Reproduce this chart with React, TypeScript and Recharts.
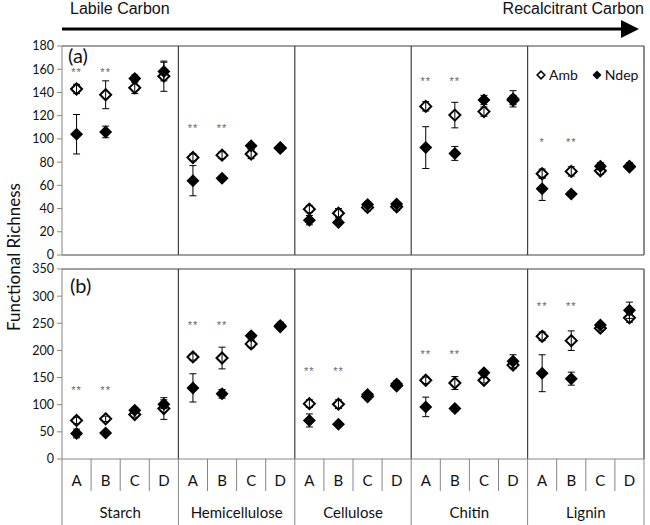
import React from 'react';
import { ComposedChart, Scatter, XAxis, YAxis, ErrorBar, ReferenceLine, Legend } from 'recharts';

const groups = ['Starch', 'Hemicellulose', 'Cellulose', 'Chitin', 'Lignin'];
const levels = ['A', 'B', 'C', 'D'];

// panel (a)
const ambA = [143, 138, 144, 154, 84, 86, 87, 92, 39.5, 36, 41, 41.5, 128, 120.5, 123.5, 133.5, 70, 72, 72.5, 76];
const ambErrA = [4, 12, 5, 13, 3, 3, 4, 2, 3, 4, 3, 3, 4, 11, 4, 4, 4, 4, 3, 2];
const ndepA = [104, 106, 152, 158, 64, 66, 94, 92.5, 30, 28, 43.5, 44, 92.5, 87.5, 133.5, 134.5, 57, 52.5, 76.5, 76.5];
const ndepErrA = [17, 5, 3, 8, 13, 2, 2, 2, 4, 2, 2, 2, 18, 6, 4, 7, 10, 2, 3, 3];
const starYA = [154, 106, 0, 146, 94];
const starsA = ['**', '**', '', '', '**', '**', '', '', '', '', '', '', '**', '**', '', '', '*', '**', '', ''];

// panel (b)
const ambB = [71, 74, 82, 93, 188, 186, 212, 244, 102, 101, 115, 135, 145, 140, 145, 173, 226, 218, 241, 260];
const ambErrB = [6, 5, 5, 20, 6, 20, 7, 5, 7, 8, 4, 4, 6, 12, 5, 6, 8, 18, 5, 8];
const ndepB = [47, 48, 90, 101, 131, 120, 227, 246, 71, 64, 119, 138, 96, 93, 159, 180, 158, 148, 247, 274];
const ndepErrB = [8, 3, 5, 8, 26, 8, 4, 6, 12, 3, 4, 6, 18, 5, 4, 12, 34, 12, 4, 15];
const starYB = [119, 239, 154, 186, 274];
const starsB = ['**', '**', '', '', '**', '**', '', '', '**', '**', '', '', '**', '**', '', '', '**', '**', '', ''];

const ticksA = [0, 20, 40, 60, 80, 100, 120, 140, 160, 180];
const ticksB = [0, 50, 100, 150, 200, 250, 300, 350];
const xTicks = Array.from({ length: 20 }, (_, i) => i);
const dividers = [3.5, 7.5, 11.5, 15.5, 19.5];

const font = 'Lato, Carlito, "Open Sans", sans-serif';
const plotLeft = 62;
const plotRight = 644;
const cellW = (plotRight - plotLeft) / 20;

function buildRows(amb: number[], ambErr: number[], ndep: number[], ndepErr: number[], starY: number[], stars: string[]) {
  return amb.map((v, i) => ({
    x: i,
    amb: v,
    ambErr: ambErr[i],
    ndep: ndep[i],
    ndepErr: ndepErr[i],
    starY: starY[Math.floor(i / 4)],
    star: stars[i],
  }));
}

const rowsA = buildRows(ambA, ambErrA, ndepA, ndepErrA, starYA, starsA);
const rowsB = buildRows(ambB, ambErrB, ndepB, ndepErrB, starYB, starsB);

const diamond = (cx: number, cy: number, r: number) => `M${cx},${cy - r}L${cx + r},${cy}L${cx},${cy + r}L${cx - r},${cy}Z`;

const OpenDiamond = (props: any) => (
  <path d={diamond(props.cx, props.cy, 5.5)} fill="none" stroke="#000" strokeWidth={2} />
);

const FilledDiamond = (props: any) => (
  <path d={diamond(props.cx, props.cy, 6.5)} fill="#000" stroke="none" />
);

const StarMark = (props: any) => {
  const { cx, cy, payload } = props;
  if (!payload.star) return <g />;
  return (
    <text x={cx} y={cy} textAnchor="middle" fontSize={11} fill="#666" fontFamily="Liberation Sans, Arial" letterSpacing={1}>
      {payload.star}
    </text>
  );
};

const renderLegend = (props: any) => (
  <div style={{ display: 'flex', gap: 14, fontFamily: font, fontSize: 14, color: '#111' }}>
    {props.payload
      .filter((p: any) => p.value === 'Amb' || p.value === 'Ndep')
      .map((p: any) => (
        <span key={p.value} style={{ display: 'flex', alignItems: 'center', gap: 3 }}>
          <svg width={10} height={10}>
            {p.value === 'Amb' ? (
              <path d={diamond(5, 5, 3.8)} fill="none" stroke="#000" strokeWidth={1.6} />
            ) : (
              <path d={diamond(5, 5, 4.5)} fill="#000" />
            )}
          </svg>
          {p.value}
        </span>
      ))}
  </div>
);

const CategoryTick = (props: any) => {
  const { x, y, payload } = props;
  const i = payload.value as number;
  const left = x - cellW / 2;
  const full = i % 4 === 0;
  return (
    <g>
      <line x1={left} y1={y} x2={left} y2={y + (full ? 66 : 32)} stroke="#868686" />
      {i === 19 && <line x1={x + cellW / 2} y1={y} x2={x + cellW / 2} y2={y + 66} stroke="#868686" />}
      <text x={x} y={y + 27} textAnchor="middle" fontSize={15} fill="#111" fontFamily={font}>
        {levels[i % 4]}
      </text>
      {i % 4 === 1 && (
        <text x={x + cellW / 2} y={y + 59} textAnchor="middle" fontSize={15} fill="#111" fontFamily={font}>
          {groups[Math.floor(i / 4)]}
        </text>
      )}
    </g>
  );
};

function Panel({ rows, ticks, max, bottom, showLegend }: any) {
  const isB = bottom;
  return (
    <ComposedChart
      width={650}
      height={isB ? 264 : 270}
      data={rows}
      margin={{ top: isB ? 8 : 46, right: 650 - plotRight, bottom: isB ? 0 : 14, left: 0 }}
    >
      <XAxis
        type="number"
        dataKey="x"
        domain={[-0.5, 19.5]}
        ticks={isB ? xTicks : []}
        interval={0}
        height={isB ? 66 : 1}
        tick={isB ? <CategoryTick /> : false}
        tickSize={0}
        tickMargin={0}
        tickLine={false}
        axisLine={{ stroke: isB ? '#868686' : '#404040' }}
      />
      <YAxis
        type="number"
        domain={[0, max]}
        ticks={ticks}
        interval={0}
        width={plotLeft}
        tickSize={5}
        tickMargin={3}
        tick={{ fontSize: 12.5, fill: '#111', fontFamily: font }}
        axisLine={{ stroke: '#868686' }}
        tickLine={{ stroke: '#868686' }}
      />
      <ReferenceLine y={max} stroke="#404040" strokeWidth={1.2} />
      {dividers.map((d) => (
        <ReferenceLine key={d} x={d} stroke="#404040" strokeWidth={1.2} />
      ))}
      {showLegend && (
        <Legend
          layout="vertical"
          align="center"
          verticalAlign="middle"
          wrapperStyle={{ top: 66, left: 536, width: 110 }}
          content={renderLegend}
        />
      )}
      <Scatter name="Amb" dataKey="amb" shape={<OpenDiamond />} isAnimationActive={false}>
        <ErrorBar dataKey="ambErr" direction="y" width={3.5} stroke="#000" strokeWidth={1} />
      </Scatter>
      <Scatter name="Ndep" dataKey="ndep" shape={<FilledDiamond />} isAnimationActive={false}>
        <ErrorBar dataKey="ndepErr" direction="y" width={3.5} stroke="#000" strokeWidth={1} />
      </Scatter>
      <Scatter name="sig" dataKey="starY" shape={<StarMark />} legendType="none" isAnimationActive={false} />
    </ComposedChart>
  );
}

export default function App() {
  return (
    <div style={{ position: 'absolute', left: 0, top: 0, width: 650, height: 525, background: '#fff', overflow: 'hidden' }}>
      <svg width={650} height={40} style={{ position: 'absolute', left: 0, top: 0 }}>
        <defs>
          <marker id="arrowHead" markerWidth="6" markerHeight="6" refX="3" refY="3" orient="auto" markerUnits="strokeWidth">
            <path d="M0,0 L6,3 L0,6 Z" fill="#000" />
          </marker>
        </defs>
        <line x1={62} y1={29} x2={630} y2={29} stroke="#000" strokeWidth={3} markerEnd="url(#arrowHead)" />
        <text x={70} y={14} fontSize={16} fontFamily="Liberation Sans, Arial" fill="#111">Labile Carbon</text>
        <text x={644} y={14} fontSize={16} fontFamily="Liberation Sans, Arial" fill="#111" textAnchor="end">Recalcitrant Carbon</text>
      </svg>
      <div style={{ position: 'absolute', left: 0, top: 0 }}>
        <Panel rows={rowsA} ticks={ticksA} max={180} bottom={false} showLegend />
      </div>
      <div style={{ position: 'absolute', left: 0, top: 261 }}>
        <Panel rows={rowsB} ticks={ticksB} max={350} bottom showLegend={false} />
      </div>
      <div style={{ position: 'absolute', left: 68, top: 46, fontFamily: font, fontSize: 20, lineHeight: '18px', color: '#111' }}>(a)</div>
      <div style={{ position: 'absolute', left: 70, top: 276, fontFamily: font, fontSize: 20, lineHeight: '18px', color: '#111' }}>(b)</div>
      <div
        style={{
          position: 'absolute',
          left: 13,
          top: 257,
          transform: 'translate(-50%, -50%) rotate(-90deg)',
          whiteSpace: 'nowrap',
          fontFamily: font,
          fontSize: 17,
          color: '#111',
        }}
      >
        Functional Richness
      </div>
    </div>
  );
}
